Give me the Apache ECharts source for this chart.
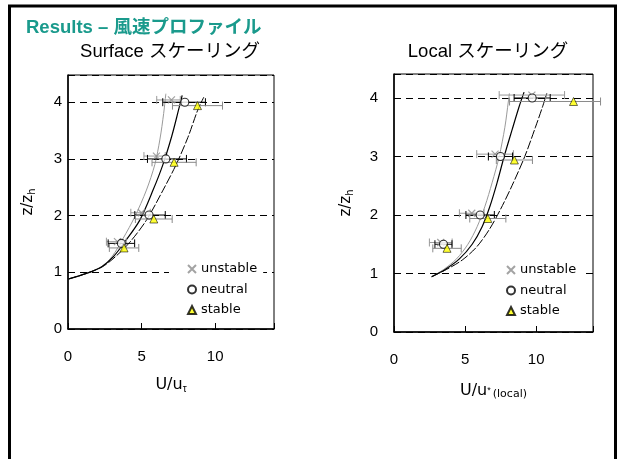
<!DOCTYPE html>
<html>
<head>
<meta charset="utf-8">
<script src="https://cdn.jsdelivr.net/npm/echarts@6/dist/echarts.min.js"></script>
<style>
  html, body { margin: 0; padding: 0; background: #fff; }
  #chart { width: 619px; height: 459px; }
</style>
</head>
<body>
<div id="chart"></div>
<script>
// ---- Surface scaling panel: measured points [U, z] ----
const surfUnstable = [[7.03, 4.04], [6.01, 3.05], [4.99, 2.05], [3.36, 1.54]];
const surfNeutral  = [[7.94, 4.00], [6.65, 3.00], [5.51, 2.01], [3.63, 1.51]];
const surfStable   = [[8.80, 3.94], [7.21, 2.94], [5.83, 1.94], [3.81, 1.43]];
// horizontal error bars: [minus, plus]
const surfUnstableErr = [[1.0, 0.6], [0.85, 0.6], [0.72, 0.6], [0.75, 0.6]];
const surfNeutralErr  = [[1.5, 1.4], [1.25, 1.4], [0.97, 1.1], [0.9, 0.9]];
const surfStableErr   = [[1.7, 1.7], [1.5, 1.5], [1.25, 1.25], [1.0, 1.0]];
// profile curves [U, z]
const surfUnstableCurve = [[0, 0.88], [1.25, 0.98], [2.27, 1.10], [3.0, 1.28], [3.75, 1.6], [4.54, 1.98], [5.33, 2.45], [5.9, 2.9], [6.25, 3.35], [6.5, 3.8], [6.65, 4.15]];
const surfNeutralCurve  = [[0, 0.88], [1.25, 0.98], [2.30, 1.10], [3.1, 1.28], [3.9, 1.55], [4.88, 1.92], [5.78, 2.45], [6.45, 2.9], [7.05, 3.4], [7.5, 3.85], [7.76, 4.12]];
const surfStableCurve   = [[0, 0.88], [1.25, 0.98], [2.35, 1.10], [3.2, 1.27], [4.2, 1.53], [5.33, 1.92], [6.46, 2.45], [7.35, 2.9], [8.15, 3.38], [8.8, 3.85], [9.23, 4.09]];

// ---- Local scaling panel ----
const locUnstable = [[9.70, 4.05], [7.11, 3.04], [5.47, 2.03], [3.29, 1.53]];
const locNeutral  = [[9.72, 4.00], [7.49, 3.00], [6.06, 2.00], [3.48, 1.50]];
const locStable   = [[12.63, 3.94], [8.47, 2.94], [6.60, 1.94], [3.73, 1.43]];
const locUnstableErr = [[2.3, 2.3], [1.29, 1.29], [0.87, 0.87], [0.8, 0.8]];
const locNeutralErr  = [[1.27, 1.27], [0.85, 0.85], [1.0, 1.0], [0.6, 0.6]];
const locStableErr   = [[4.5, 1.9], [1.27, 1.27], [1.27, 1.27], [1.0, 1.0]];
const locUnstableCurve = [[2.65, 0.945], [3.5, 1.07], [4.4, 1.25], [5.2, 1.5], [5.85, 1.8], [6.4, 2.15], [6.9, 2.55], [7.4, 3.0], [7.8, 3.5], [8.05, 3.95], [8.12, 4.08]];
const locNeutralCurve  = [[2.65, 0.945], [3.6, 1.07], [4.6, 1.25], [5.5, 1.5], [6.2, 1.8], [6.75, 2.15], [7.25, 2.55], [7.75, 3.0], [8.3, 3.45], [8.8, 3.85], [9.15, 4.1]];
const locStableCurve   = [[2.65, 0.945], [3.7, 1.07], [4.8, 1.23], [5.8, 1.45], [6.7, 1.75], [7.5, 2.1], [8.3, 2.5], [9.2, 3.0], [9.95, 3.5], [10.45, 3.85], [10.75, 4.08]];

const xTicks = [0, 5, 10];
const yTicks = [0, 1, 2, 3, 4];
const seriesNames = ['unstable', 'neutral', 'stable'];

const FONT = '"Liberation Sans", Arial, "Noto Sans CJK JP", sans-serif';
const MONO = '"DejaVu Sans", sans-serif';
const crossPath = 'path://M0,0L10,10M10,0L0,10';

function errData(points, err) {
  return points.map((p, i) => [p[0] - err[i][0], p[0] + err[i][1], p[1]]);
}

function errSeries(idx, points, err, color) {
  return {
    type: 'custom',
    xAxisIndex: idx, yAxisIndex: idx,
    z: 3,
    silent: true,
    clip: false,
    data: errData(points, err),
    encode: { x: [0, 1], y: 2 },
    renderItem: function (params, api) {
      const a = api.coord([api.value(0), api.value(2)]);
      const b = api.coord([api.value(1), api.value(2)]);
      const h = 4;
      const st = { stroke: color, lineWidth: 1 };
      return {
        type: 'group',
        children: [
          { type: 'line', shape: { x1: a[0], y1: a[1], x2: b[0], y2: b[1] }, style: st },
          { type: 'line', shape: { x1: a[0], y1: a[1] - h, x2: a[0], y2: a[1] + h }, style: st },
          { type: 'line', shape: { x1: b[0], y1: b[1] - h, x2: b[0], y2: b[1] + h }, style: st }
        ]
      };
    }
  };
}

function curveSeries(idx, data, color, type, width) {
  return {
    type: 'line', xAxisIndex: idx, yAxisIndex: idx, z: 2,
    data: data, smooth: 0.3, showSymbol: false, silent: true,
    lineStyle: { color: color, width: width, type: type }
  };
}

function markSeries(idx, name, data) {
  const base = { type: 'scatter', name: name, xAxisIndex: idx, yAxisIndex: idx, z: 5, data: data };
  if (name === 'unstable') {
    return Object.assign(base, { symbol: crossPath, symbolSize: 7,
      itemStyle: { color: 'rgba(0,0,0,0)', borderColor: '#8c8c8c', borderWidth: 1.2 } });
  }
  if (name === 'neutral') {
    return Object.assign(base, { symbol: 'circle', symbolSize: 8,
      itemStyle: { color: '#fff', borderColor: '#000', borderWidth: 1.1 } });
  }
  return Object.assign(base, { symbol: 'triangle', symbolSize: 8,
    itemStyle: { color: '#ffff00', borderColor: '#000', borderWidth: 0.7 } });
}

function xAxisCfg(idx, nameRich) {
  return {
    type: 'value', gridIndex: idx, min: 0, max: 14, interval: 5,
    axisLine: { show: true, lineStyle: { color: '#000', width: 1.5 } },
    axisTick: { show: true, inside: true, length: 6, lineStyle: { color: '#000' } },
    axisLabel: { color: '#000', fontSize: 15, fontFamily: FONT, margin: 20,
      formatter: v => (xTicks.indexOf(v) >= 0 ? String(v) : '') },
    splitLine: { show: false },
    name: nameRich.text, nameLocation: 'middle', nameGap: nameRich.gap,
    nameTextStyle: { color: '#000', fontFamily: FONT, rich: nameRich.rich }
  };
}

function yAxisCfg(idx, max, margin, gap) {
  return {
    type: 'value', gridIndex: idx, min: 0, max: max, interval: 1,
    axisLine: { show: true, lineStyle: { color: '#000', width: 1.5 } },
    axisTick: { show: false },
    axisLabel: { color: '#000', fontSize: 15, fontFamily: FONT, margin: margin,
      formatter: v => (yTicks.indexOf(v) >= 0 ? String(v) : '') },
    splitLine: { show: true, lineStyle: { color: '#000', width: 1, type: [7, 5] } },
    name: '{a|z/z}{b|h}', nameLocation: 'middle', nameGap: gap, nameRotate: 90,
    nameTextStyle: { color: '#000', fontFamily: MONO,
      rich: {
        a: { fontSize: 15, fontFamily: MONO, color: '#000', lineHeight: 18 },
        b: { fontSize: 10, fontFamily: MONO, color: '#000', lineHeight: 18, verticalAlign: 'bottom', padding: [8, 0, 0, 0] }
      } }
  };
}

function legendCfg(left, top) {
  return {
    orient: 'vertical', left: left, top: top,
    data: seriesNames,
    itemWidth: 8, itemHeight: 8, itemGap: 6.5,
    padding: [3, 6, 3, 18],
    backgroundColor: '#fff',
    selectedMode: false,
    textStyle: { color: '#000', fontSize: 13, fontFamily: MONO, lineHeight: 14 }
  };
}

const chart = echarts.init(document.getElementById('chart'), null, { renderer: 'canvas' });

const option = {
  backgroundColor: '#fff',
  animation: false,
  grid: [
    { left: 68, top: 75, width: 206, height: 254, show: true, borderColor: '#000', borderWidth: 1, backgroundColor: 'transparent' },
    { left: 394, top: 74, width: 199, height: 258, show: true, borderColor: '#000', borderWidth: 1, backgroundColor: 'transparent' }
  ],
  xAxis: [
    xAxisCfg(0, { text: '{a|U/u}{b|τ}', gap: 47, rich: {
      a: { fontSize: 16, fontFamily: MONO, color: '#000', lineHeight: 18 },
      b: { fontSize: 10, fontFamily: FONT, color: '#000', lineHeight: 18, verticalAlign: 'bottom', padding: [8, 0, 0, 0] } } }),
    xAxisCfg(1, { text: '{a|U/u}{c|*}{b|(local)}', gap: 50, rich: {
      a: { fontSize: 16, fontFamily: MONO, color: '#000', lineHeight: 18 },
      c: { fontSize: 9, fontFamily: FONT, color: '#000', lineHeight: 18 },
      b: { fontSize: 11, fontFamily: MONO, color: '#000', lineHeight: 18, verticalAlign: 'bottom', padding: [8, 0, 0, 2] } } })
  ],
  yAxis: [
    yAxisCfg(0, 4.48, 6, 31),
    yAxisCfg(1, 4.41, 16, 39)
  ],
  legend: [
    legendCfg(169, 259),
    legendCfg(488, 260)
  ],
  series: [
    curveSeries(0, surfUnstableCurve, '#9a9a9a', 'solid', 1),
    curveSeries(0, surfNeutralCurve, '#000', 'solid', 1.2),
    curveSeries(0, surfStableCurve, '#000', [9, 2], 1),
    errSeries(0, surfUnstable, surfUnstableErr, '#9a9a9a'),
    errSeries(0, surfNeutral, surfNeutralErr, '#000'),
    errSeries(0, surfStable, surfStableErr, '#8a8a8a'),
    markSeries(0, 'unstable', surfUnstable),
    markSeries(0, 'neutral', surfNeutral),
    markSeries(0, 'stable', surfStable),

    curveSeries(1, locUnstableCurve, '#9a9a9a', 'solid', 1),
    curveSeries(1, locNeutralCurve, '#000', 'solid', 1.2),
    curveSeries(1, locStableCurve, '#000', [9, 2], 1),
    errSeries(1, locUnstable, locUnstableErr, '#9a9a9a'),
    errSeries(1, locNeutral, locNeutralErr, '#000'),
    errSeries(1, locStable, locStableErr, '#8a8a8a'),
    markSeries(1, 'unstable', locUnstable),
    markSeries(1, 'neutral', locNeutral),
    markSeries(1, 'stable', locStable)
  ],
  graphic: [
    { type: 'rect', z: 100, silent: true,
      shape: { x: 9.5, y: 6, width: 606, height: 480 },
      style: { fill: 'none', stroke: '#000', lineWidth: 3 } },
    { type: 'text', left: 26, top: 19, z: 100,
      style: { text: 'Results – 風速プロファイル', fill: '#1a9a8c', font: 'bold 18.5px ' + FONT } },
    { type: 'text', x: 170, y: 52, z: 100,
      style: { text: 'Surface スケーリング', fill: '#000', font: '18.5px ' + FONT, textAlign: 'center', textVerticalAlign: 'middle' } },
    { type: 'text', x: 488, y: 52, z: 100,
      style: { text: 'Local スケーリング', fill: '#000', font: '18.5px ' + FONT, textAlign: 'center', textVerticalAlign: 'middle' } }
  ]
};

chart.setOption(option);
</script>
</body>
</html>
